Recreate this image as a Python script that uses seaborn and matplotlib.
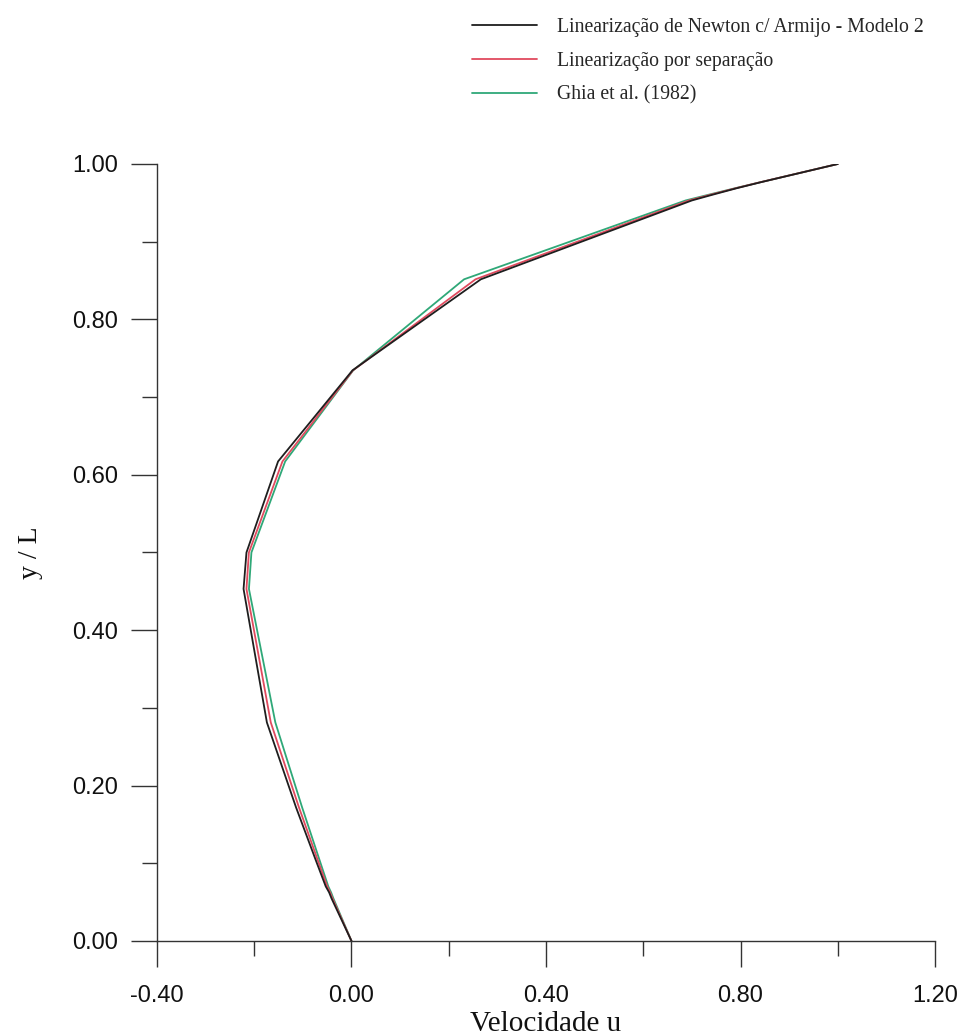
import numpy as np
import pandas as pd
import matplotlib
matplotlib.use("Agg")
import matplotlib.pyplot as plt
import seaborn as sns
from matplotlib.ticker import MultipleLocator, FormatStrFormatter

# Vertical centreline u-velocity profile, lid-driven cavity
y_pos = [1.0, 0.9766, 0.9688, 0.9609, 0.9531, 0.8516, 0.7344, 0.6172,
         0.5, 0.4531, 0.2813, 0.1719, 0.1016, 0.0703, 0.0625, 0.0547, 0.0]
u_newton = [1.0, 0.842, 0.792, 0.745, 0.700, 0.266, 0.002, -0.151,
            -0.216, -0.222, -0.174, -0.114, -0.072, -0.053, -0.046, -0.041, 0.0]
u_separacao = [1.0, 0.841, 0.790, 0.741, 0.694, 0.255, 0.003, -0.142,
               -0.211, -0.216, -0.166, -0.108, -0.068, -0.050, -0.044, -0.039, 0.0]
u_ghia = [1.0, 0.84123, 0.78871, 0.73722, 0.68717, 0.23151, 0.00332, -0.13641,
          -0.20581, -0.21090, -0.15662, -0.10150, -0.06434, -0.04775, -0.04192, -0.03717, 0.0]

series_names = ["Linearização de Newton c/ Armijo - Modelo 2",
                "Linearização por separação",
                "Ghia et al. (1982)"]
series_colors = ["#1e1e1e", "#e04a5e", "#2fa878"]

sns.set_theme(style="white")
plt.rcParams["font.family"] = ["Liberation Sans", "DejaVu Sans"]

fig = plt.figure(figsize=(9.59, 10.36), dpi=100)
ax = fig.add_axes([0.1637, 0.0917, 0.8113, 0.7500])

frames = []
for name, u in zip(series_names, [u_newton, u_separacao, u_ghia]):
    frames.append(pd.DataFrame({"u": u, "y": y_pos, "serie": name}))
df = pd.concat(frames, ignore_index=True)

# draw reference data first so the computed profiles sit on top
for name, color, z in zip(series_names[::-1], series_colors[::-1], [2, 3, 4]):
    sub = df[df["serie"] == name]
    sns.lineplot(data=sub, x="u", y="y", sort=False, estimator=None, orient="y",
                 color=color, linewidth=1.3, ax=ax, label=name, zorder=z)

ax.set_xlim(-0.40, 1.20)
ax.set_ylim(0.0, 1.0)
ax.xaxis.set_major_locator(MultipleLocator(0.40))
ax.xaxis.set_minor_locator(MultipleLocator(0.20))
ax.yaxis.set_major_locator(MultipleLocator(0.20))
ax.yaxis.set_minor_locator(MultipleLocator(0.10))
ax.xaxis.set_major_formatter(FormatStrFormatter("%.2f"))
ax.yaxis.set_major_formatter(FormatStrFormatter("%.2f"))

for side in ["top", "right"]:
    ax.spines[side].set_visible(False)
for side in ["left", "bottom"]:
    ax.spines[side].set_color("#333333")
    ax.spines[side].set_linewidth(1.0)

ax.tick_params(which="major", direction="out", length=19, width=1.0,
               color="#333333", labelsize=17, labelcolor="#111111",
               bottom=True, left=True)
ax.tick_params(axis="x", which="major", pad=12.5)
ax.tick_params(axis="y", which="major", pad=9)
ax.tick_params(which="minor", direction="out", length=10.5, width=1.0,
               color="#333333", bottom=True, left=True)

ax.set_xlabel("Velocidade u", family="Liberation Serif", fontsize=21,
              color="#111111")
ax.set_ylabel("y / L", family="Liberation Serif", fontsize=20,
              color="#111111")
ax.xaxis.set_label_coords(0.5, -0.0895)
ax.yaxis.set_label_coords(-0.146, 0.5)

h, l = ax.get_legend_handles_labels()
order = [l.index(n) for n in series_names]
ax.legend([h[i] for i in order], [l[i] for i in order],
          loc="upper left", bbox_to_anchor=(0.4736, 1.0),
          bbox_transform=fig.transFigure, frameon=False,
          prop={"family": "Liberation Serif", "size": 14.25},
          handlelength=3.28, handletextpad=1.0, labelspacing=0.75)

fig.savefig("out.png", dpi=100, facecolor="white")
